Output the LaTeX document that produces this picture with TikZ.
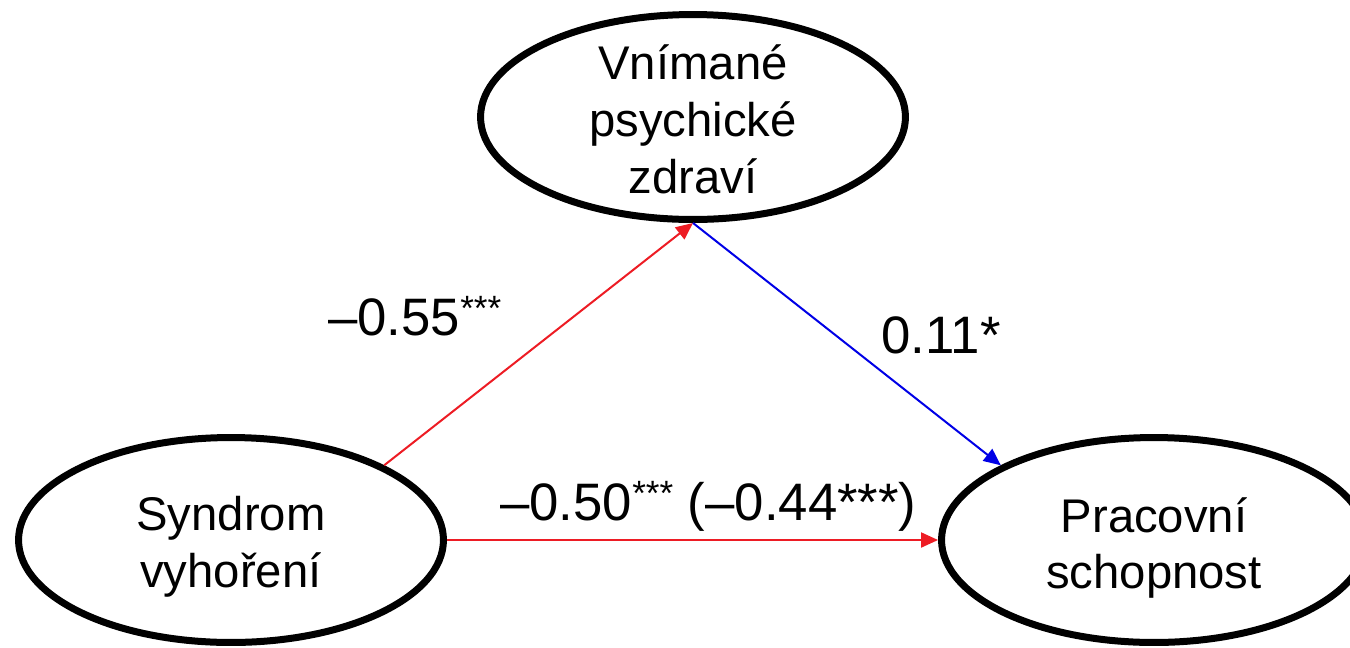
\documentclass[tikz,border=0pt]{standalone}
\usepackage{fontspec}
\setmainfont{Liberation Sans}
\usetikzlibrary{shapes.geometric,arrows.meta}
\definecolor{pathred}{RGB}{237,28,36}
\definecolor{pathblue}{RGB}{0,0,230}
\newcommand{\supstars}[1]{\raisebox{8.3pt}{\fontsize{20}{20}\selectfont #1}}
\begin{document}
\begin{tikzpicture}[x=0.02cm,y=-0.02cm,
    construct/.style={ellipse,draw,line width=0.14cm,minimum width=8.5cm,minimum height=4.1cm,inner sep=0pt},
    ctext/.style={align=center,inner sep=0pt,font=\fontsize{26.9}{32.3}\selectfont},
    coef/.style={anchor=base west,inner sep=0pt,font=\fontsize{30}{36}\selectfont},
    effect/.style={line width=0.04cm,-{Triangle[length=0.34cm,width=0.3cm]}}]
    \useasboundingbox (0,0) rectangle (1350,647);
    \clip (0,0) rectangle (1350,647);
    \node[construct] (psy) at (693,117) {};
    \node[construct] (syn) at (231,540) {};
    \node[construct] (pra) at (1154,540) {};
    \node[ctext] (psytext) at (693,119.5) {Vnímané\\psychické\\zdraví};
    \node[ctext] (syntext) at (231,547) {Syndrom\\vyhoření};
    \node[ctext] (pratext) at (1154,548) {Pracovní\\schopnost};
    \draw[effect,pathred] (syn.26) -- (psy.south);
    \draw[effect,pathblue] (psy.south) -- (pra.154);
    \draw[effect,pathred] (syn.east) -- (pra.west);
    \node[coef] (ca) at (328,335) {–0.55\supstars{***}};
    \node[coef] (cb) at (881,353) {0.11*};
    \node[coef] (cc) at (500,520) {–0.50\supstars{***} (–0.44***)};
\end{tikzpicture}
\end{document}
